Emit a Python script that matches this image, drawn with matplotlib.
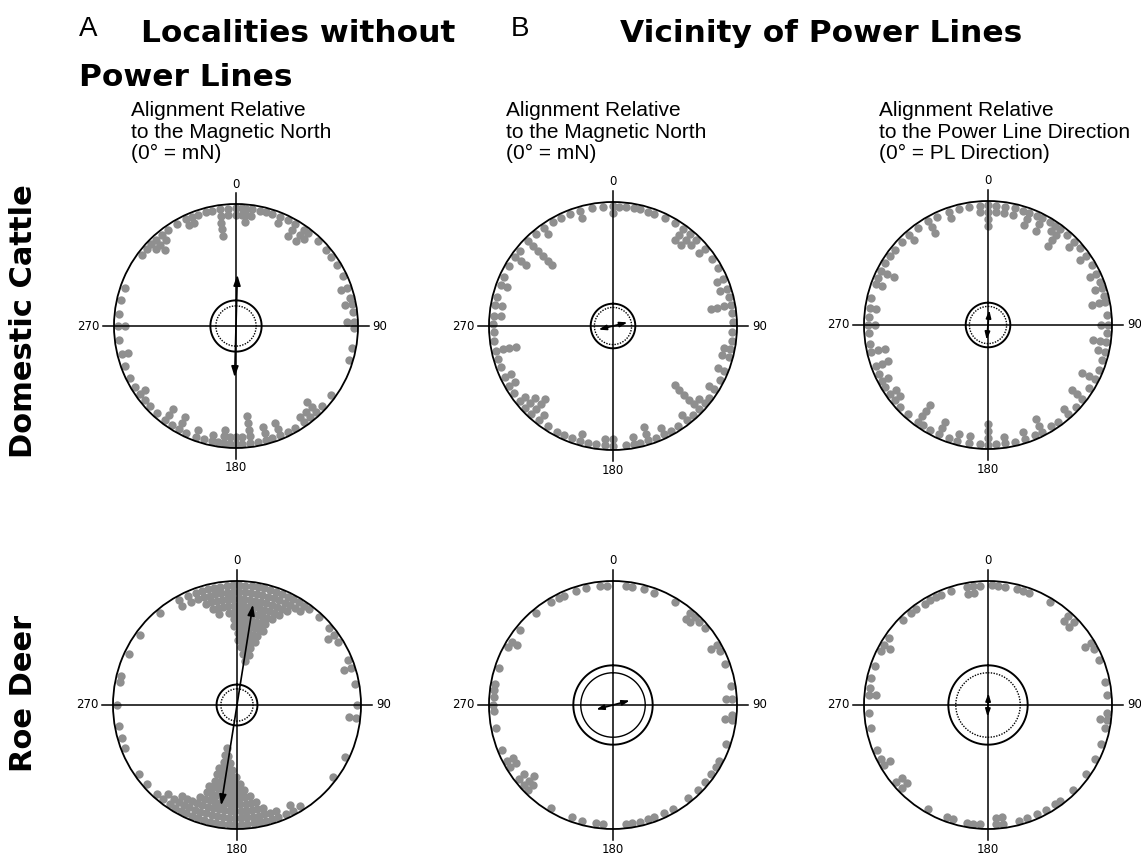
import numpy as np
import matplotlib
matplotlib.use("Agg")
import matplotlib.pyplot as plt

# ---- data: angle (deg) of each stacked column of dots and number of dots in it ----
cattle_free_ang = [0, 3, 5, 8, 12, 15, 18, 22, 26, 30, 35, 38, 44, 50, 54, 59, 65, 71, 76, 79, 83, 88, 91,
                   101, 107, 126, 133, 137, 141, 145, 150, 154, 158, 162, 165, 169, 173, 177, 180, 183,
                   186, 189, 192, 196, 200, 205, 209, 213, 217, 222, 227, 231, 235, 239, 244, 250, 256,
                   263, 270, 276, 283, 289, 307, 311, 314, 317, 321, 325, 330, 335, 338, 341, 345, 348,
                   352, 356]
cattle_free_n = [2, 2, 3, 2, 1, 1, 1, 2, 1, 3, 3, 2, 1, 1, 1, 1, 1, 2, 1, 2, 1, 2, 1,
                 1, 1, 1, 1, 3, 2, 2, 1, 1, 3, 1, 3, 1, 5, 2, 2, 2,
                 3, 1, 2, 1, 2, 1, 3, 1, 3, 1, 1, 1, 2, 1, 1, 1, 2,
                 1, 2, 1, 1, 1, 1, 1, 2, 3, 2, 1, 1, 2, 2, 1, 1, 1,
                 5, 2]

cattle_pl_mn_ang = [0, 3, 6, 10, 13, 17, 20, 26, 31, 36, 40, 44, 50, 56, 61, 67, 72, 76, 80, 84, 88, 93,
                    97, 101, 105, 112, 117, 122, 127, 130, 134, 138, 142, 147, 151, 155, 159, 163, 167,
                    170, 174, 180, 184, 188, 192, 196, 200, 204, 208, 213, 218, 223, 227, 231, 236, 240,
                    245, 250, 254, 258, 263, 267, 271, 275, 280, 284, 290, 294, 300, 305, 309, 315, 320,
                    325, 330, 334, 339, 344, 350, 355]
cattle_pl_mn_n = [2, 1, 1, 1, 1, 1, 1, 1, 1, 3, 3, 2, 2, 1, 1, 2, 2, 1, 4, 1, 1, 1,
                  1, 2, 2, 2, 1, 2, 1, 2, 6, 1, 2, 1, 1, 2, 1, 3, 1,
                  2, 1, 2, 2, 1, 1, 2, 1, 1, 1, 1, 2, 4, 3, 2, 1, 2,
                  2, 1, 1, 4, 1, 1, 1, 2, 2, 1, 2, 1, 1, 3, 1, 6, 1,
                  2, 1, 1, 1, 2, 1, 1]

cattle_pl_dir_ang = [0, 4, 8, 13, 17, 20, 24, 27, 31, 34, 37, 41, 46, 50, 55, 60, 65, 69, 72, 76, 79, 85,
                     90, 94, 98, 103, 107, 112, 117, 122, 128, 133, 138, 144, 148, 153, 157, 162, 167,
                     172, 176, 180, 184, 189, 195, 199, 204, 209, 213, 216, 222, 227, 231, 235, 239, 242,
                     246, 250, 257, 261, 266, 270, 274, 278, 283, 290, 293, 297, 301, 305, 309, 314, 319,
                     324, 330, 335, 341, 346, 351, 356]
cattle_pl_dir_n = [4, 2, 2, 2, 1, 3, 1, 3, 1, 2, 4, 1, 2, 1, 2, 1, 2, 1, 2, 1, 3, 1,
                   2, 1, 3, 2, 1, 1, 3, 1, 3, 1, 2, 1, 1, 3, 1, 2, 1,
                   2, 1, 4, 1, 2, 2, 1, 3, 1, 1, 4, 1, 1, 2, 2, 1, 2,
                   1, 3, 3, 1, 1, 2, 1, 2, 1, 2, 1, 3, 1, 1, 1, 1, 2,
                   1, 3, 1, 2, 1, 1, 2]

deer_free_ang = [320, 331, 336, 340, 343, 346, 349, 352, 355, 358, 1, 4, 7, 10, 13, 16, 19, 22, 25, 28,
                 31, 34, 37, 43, 50, 54, 58, 68, 72, 80, 90, 96, 116, 127,
                 148, 152, 156, 160, 163, 166, 169, 172, 175, 178, 181, 184, 187, 190, 193, 196, 199,
                 202, 205, 208, 211, 214, 218, 222, 229, 235, 249, 254, 260, 270, 281, 284, 295, 306]
deer_free_n = [1, 2, 2, 2, 3, 4, 5, 4, 5, 7, 9, 10, 11, 12, 11, 9, 7, 5, 4, 3,
               2, 2, 1, 1, 1, 2, 1, 1, 2, 1, 1, 2, 1, 1,
               1, 2, 1, 2, 2, 3, 4, 5, 6, 7, 8, 9, 10, 11, 12, 9, 6,
               4, 3, 3, 3, 2, 2, 1, 1, 1, 1, 1, 1, 1, 1, 1, 1, 1]

deer_pl_mn_ang = [354, 357, 6, 9, 15, 20, 31, 40, 43, 46, 50, 60, 63, 70, 81, 87, 95, 97, 109, 118, 121,
                  125, 130, 135, 141, 150, 155, 160, 163, 167, 171, 174, 185, 188, 195, 200, 211, 225,
                  228, 232, 239, 242, 248, 259, 267, 270, 274, 277, 280, 288, 299, 302, 309, 320, 329,
                  333, 336, 342, 347]
deer_pl_mn_n = [1, 1, 1, 1, 1, 1, 1, 2, 2, 1, 1, 2, 1, 1, 1, 2, 1, 2, 1, 1, 1,
                1, 1, 1, 1, 1, 1, 1, 1, 1, 1, 1, 1, 1, 1, 1, 1, 2,
                3, 2, 2, 2, 1, 1, 1, 1, 1, 1, 1, 1, 1, 2, 1, 1, 1,
                1, 1, 1, 1]

deer_pl_dir_ang = [350, 353, 356, 2, 5, 8, 14, 17, 20, 31, 42, 46, 59, 62, 68, 79, 85, 94, 97, 101, 109,
                   117, 125, 135, 143, 146, 151, 156, 161, 165, 173, 176, 184, 187, 190, 197, 200, 210,
                   226, 230, 240, 243, 248, 259, 266, 275, 278, 283, 289, 297, 300, 304, 315, 320, 323,
                   328, 331, 334, 337, 342]
deer_pl_dir_n = [2, 2, 1, 1, 1, 1, 1, 1, 1, 1, 2, 2, 2, 1, 1, 1, 1, 1, 2, 1, 1,
                 1, 1, 1, 1, 1, 1, 1, 1, 1, 2, 2, 1, 1, 1, 1, 1, 1,
                 2, 2, 2, 1, 1, 1, 1, 2, 1, 1, 1, 1, 2, 1, 1, 1, 1,
                 1, 1, 1, 1, 1]

# mean axis direction (deg) and vector length, radii of the two significance circles
mean_dir = [1.5, 76, 5, 9, 75, 2]
mean_len = [0.42, 0.12, 0.12, 0.82, 0.14, 0.095]
crit_outer = [0.21, 0.18, 0.18, 0.165, 0.32, 0.32]
crit_inner = [0.165, 0.15, 0.15, 0.13, 0.26, 0.26]

W, H = 1141, 857
DOT = "#8f8f8f"
fig = plt.figure(figsize=(W / 100, H / 100), dpi=100)


def panel(cx, cy, rad, angles, counts, i, dotted=True, head=7):
    ax = fig.add_axes([(cx - rad) / W, (H - cy - rad) / H, 2 * rad / W, 2 * rad / H],
                      projection="polar")
    ax.set_theta_zero_location("N")
    ax.set_theta_direction(-1)
    ax.set_ylim(0, 1)
    ax.set_xticks([])
    ax.set_yticks([])
    ax.grid(False)
    ax.spines["polar"].set_linewidth(1.3)
    ax.patch.set_alpha(0)

    th, rr = [], []
    for a, n in zip(angles, counts):
        for k in range(n):
            th.append(np.deg2rad(a))
            rr.append(0.965 - 0.055 * k)
    ax.scatter(th, rr, s=36, color=DOT, linewidths=0, zorder=2)

    for t in [0, np.pi / 2, np.pi, 3 * np.pi / 2]:
        ax.plot([t, t], [0, 1.09], color="black", lw=1.1, clip_on=False, zorder=4)
    ax.text(0, 1.11, "0", ha="center", va="bottom", fontsize=8.5)
    ax.text(np.pi / 2, 1.12, "90", ha="left", va="center", fontsize=8.5)
    ax.text(np.pi, 1.11, "180", ha="center", va="top", fontsize=8.5)
    ax.text(3 * np.pi / 2, 1.12, "270", ha="right", va="center", fontsize=8.5)

    t = np.linspace(0, 2 * np.pi, 361)
    ax.plot(t, np.full_like(t, crit_outer[i]), color="black", lw=1.4, zorder=5)
    ax.plot(t, np.full_like(t, crit_inner[i]), color="black", lw=1.0,
            ls=(0, (1, 1)) if dotted else "-", zorder=5)

    a = np.deg2rad(mean_dir[i])
    L = mean_len[i]
    ax.annotate("", xy=(a, L), xytext=(a + np.pi, L),
                arrowprops=dict(arrowstyle="<|-|>,head_length=0.9,head_width=0.3",
                                color="black", lw=1.2, shrinkA=0, shrinkB=0,
                                mutation_scale=head), zorder=6)
    return ax


panel(236, 326, 122, cattle_free_ang, cattle_free_n, 0)
panel(613, 326, 124, cattle_pl_mn_ang, cattle_pl_mn_n, 1, head=5)
panel(988, 325, 124, cattle_pl_dir_ang, cattle_pl_dir_n, 2, head=5)
panel(237, 705, 124, deer_free_ang, deer_free_n, 3)
panel(613, 705, 124, deer_pl_mn_ang, deer_pl_mn_n, 4, dotted=False, head=5)
panel(988, 705, 124, deer_pl_dir_ang, deer_pl_dir_n, 5, head=5)


def ftext(x, y, s, **kw):
    fig.text(x / W, 1 - y / H, s, **kw)


heavy = dict(family="DejaVu Sans", fontweight="bold", fontsize=22.5, va="baseline")
plain = dict(family="Liberation Sans", fontsize=20, va="baseline")
ftext(79, 36, "A", **plain)
ftext(141, 42, "Localities without", **heavy)
ftext(79, 86, "Power Lines", **heavy)
ftext(511, 36, "B", **plain)
ftext(620, 42, "Vicinity of Power Lines", **heavy)

sub = dict(family="Liberation Sans", fontsize=15, va="top", ha="left", linespacing=1.18)
ftext(131, 101, "Alignment Relative\nto the Magnetic North\n(0° = mN)", **sub)
ftext(506, 101, "Alignment Relative\nto the Magnetic North\n(0° = mN)", **sub)
ftext(879, 101, "Alignment Relative\nto the Power Line Direction\n(0° = PL Direction)", **sub)

ftext(24, 321, "Domestic Cattle", family="DejaVu Sans", fontweight="bold", fontsize=22,
      rotation=90, ha="center", va="center")
ftext(24, 693, "Roe Deer", family="DejaVu Sans", fontweight="bold", fontsize=22,
      rotation=90, ha="center", va="center")

fig.savefig("out.png", dpi=100)
